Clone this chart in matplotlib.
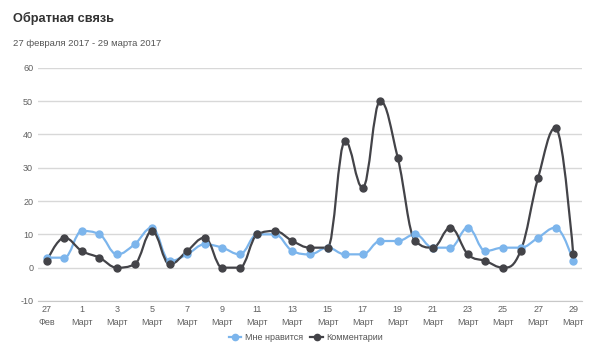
import matplotlib
matplotlib.use("Agg")
import matplotlib.pyplot as plt
from matplotlib.path import Path
from matplotlib.patches import PathPatch
from matplotlib.lines import Line2D
import numpy as np

days = ["27", "28", "1", "2", "3", "4", "5", "6", "7", "8", "9", "10", "11", "12", "13",
        "14", "15", "16", "17", "18", "19", "20", "21", "22", "23", "24", "25", "26", "27", "28", "29"]
months = ["Фев", "Фев"] + ["Март"] * 29
likes = [3, 3, 11, 10, 4, 7, 12, 2, 4, 7, 6, 4, 10, 10, 5, 4, 6, 4, 4, 8, 8, 10, 6, 6, 12, 5, 6, 6, 9, 12, 2]
comments = [2, 9, 5, 3, 0, 1, 11, 1, 5, 9, 0, 0, 10, 11, 8, 6, 6, 38, 24, 50, 33, 8, 6, 12, 4, 2, 0, 5, 27, 42, 4]
series_names = ["Мне нравится", "Комментарии"]
colors = ["#7cb5ec", "#434348"]
y_ticks = [-10, 0, 10, 20, 30, 40, 50, 60]

FONT = ["Liberation Sans", "DejaVu Sans"]
plt.rcParams["font.family"] = FONT


def spline_path(xs, ys, smoothing=1.5):
    n = len(xs)
    denom = smoothing + 1
    lc = [None] * n
    rc = [None] * n
    for i in range(1, n - 1):
        px, py = xs[i], ys[i]
        lx, ly = xs[i - 1], ys[i - 1]
        nx, ny = xs[i + 1], ys[i + 1]
        lcx = (smoothing * px + lx) / denom
        lcy = (smoothing * py + ly) / denom
        rcx = (smoothing * px + nx) / denom
        rcy = (smoothing * py + ny) / denom
        corr = 0
        if rcx != lcx:
            corr = ((rcy - lcy) * (rcx - px)) / (rcx - lcx) + py - rcy
        lcy += corr
        rcy += corr
        if lcy > ly and lcy > py:
            lcy = max(ly, py)
            rcy = 2 * py - lcy
        elif lcy < ly and lcy < py:
            lcy = min(ly, py)
            rcy = 2 * py - lcy
        if rcy > ny and rcy > py:
            rcy = max(ny, py)
            lcy = 2 * py - rcy
        elif rcy < ny and rcy < py:
            rcy = min(ny, py)
            lcy = 2 * py - rcy
        lc[i] = (lcx, lcy)
        rc[i] = (rcx, rcy)
    verts = [(xs[0], ys[0])]
    codes = [Path.MOVETO]
    for i in range(1, n):
        c1 = rc[i - 1] if rc[i - 1] is not None else (xs[i - 1], ys[i - 1])
        c2 = lc[i] if lc[i] is not None else (xs[i], ys[i])
        verts += [c1, c2, (xs[i], ys[i])]
        codes += [Path.CURVE4] * 3
    return Path(verts, codes)


fig = plt.figure(figsize=(6, 3.5), dpi=100)
ax = fig.add_axes([38 / 600, 1 - 301 / 350, 544 / 600, (301 - 67.7) / 350])
x = np.arange(len(days))

for vals, col in zip([likes, comments], colors):
    p = spline_path(list(x.astype(float)), [float(v) for v in vals])
    ax.add_patch(PathPatch(p, facecolor="none", edgecolor=col, lw=1.6, zorder=3, capstyle="round", joinstyle="round"))
    ax.plot(x, vals, "o", color=col, ms=5, mec=col, zorder=4)

ax.set_xlim(-0.5, len(days) - 0.5)
ax.set_ylim(-10, 60)
ax.set_yticks(y_ticks)
ax.set_yticklabels([str(t) for t in y_ticks])
ax.grid(axis="y", color="#d8d8d8", lw=1)
ax.set_axisbelow(True)
for s in ["top", "right", "left"]:
    ax.spines[s].set_visible(False)
ax.spines["bottom"].set_color("#c8c8c8")
ax.tick_params(axis="y", length=0, pad=3.5, labelsize=6.5, labelcolor="#606060")
tick_pos = x[::2]
ax.set_xticks(tick_pos)
ax.set_xticklabels([f"{days[i]}\n{months[i]}" for i in tick_pos], linespacing=1.5)
ax.tick_params(axis="x", length=0, pad=3, labelsize=6.5, labelcolor="#606060")

fig.text(13 / 600, 1 - 18 / 350, "Обратная связь", fontsize=9.2, fontweight="bold", color="#333333", va="center")
fig.text(13 / 600, 1 - 44 / 350, "27 февраля 2017 - 29 марта 2017", fontsize=6.8, color="#555555", va="center")

handles = [Line2D([0], [0], color=c, lw=1.6, marker="o", ms=4.5) for c in colors]
fig.legend(handles, series_names, loc="center", bbox_to_anchor=(0.51, 1 - 338 / 350), ncol=2, frameon=False,
           fontsize=6.5, labelcolor="#555555", handlelength=1.4, handletextpad=0.4, columnspacing=0.8)

fig.savefig("out.png", dpi=100, facecolor="white")
